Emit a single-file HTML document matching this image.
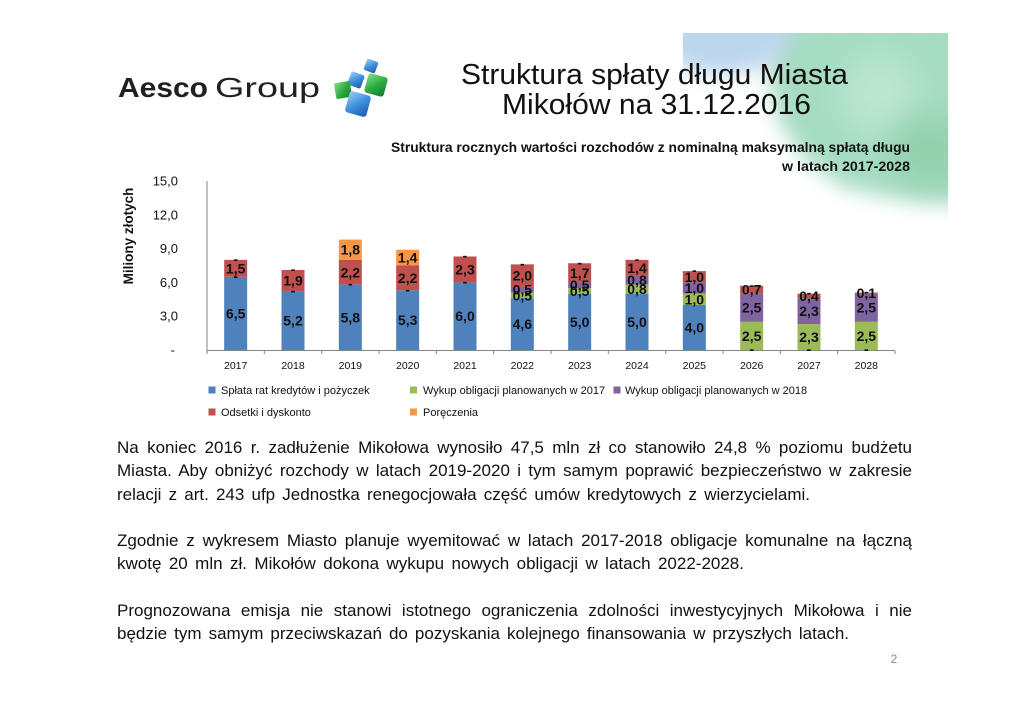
<!DOCTYPE html>
<html>
<head>
<meta charset="utf-8">
<style>
  html,body{margin:0;padding:0;background:#fff;}
  #page{position:relative;width:1024px;height:724px;overflow:hidden;background:#fff;font-family:"Liberation Sans",Arial,sans-serif;}
  svg{position:absolute;left:0;top:0;}
  svg text{font-family:"Liberation Sans",Arial,sans-serif;}
  .p{position:absolute;left:117px;font-size:17px;line-height:20px;color:#111;text-align:justify;text-align-last:justify;white-space:normal;}
</style>
</head>
<body>
<div id="page">
<svg width="1024" height="724" viewBox="0 0 1024 724" xmlns="http://www.w3.org/2000/svg">
  <defs>
    <filter id="blur" x="-60%" y="-60%" width="220%" height="220%"><feGaussianBlur stdDeviation="10"/></filter>
    <filter id="blur2" x="-60%" y="-60%" width="220%" height="220%"><feGaussianBlur stdDeviation="16"/></filter>
    <clipPath id="bgclip"><rect x="683" y="33" width="265" height="200"/></clipPath>
    <linearGradient id="gb" x1="0" y1="0" x2="1" y2="1">
      <stop offset="0" stop-color="#9ad2fa"/><stop offset="0.5" stop-color="#3f8fdc"/><stop offset="1" stop-color="#1a5aa8"/>
    </linearGradient>
    <linearGradient id="gg" x1="0" y1="0" x2="1" y2="1">
      <stop offset="0" stop-color="#8be08a"/><stop offset="0.5" stop-color="#2fae45"/><stop offset="1" stop-color="#117a2a"/>
    </linearGradient>
  </defs>

  <!-- decorative background -->
  <g clip-path="url(#bgclip)">
    <polygon points="770,10 970,10 970,205 905,200 845,188 805,160 778,120 768,70" fill="#a6dcc2" filter="url(#blur)"/>
    <ellipse cx="722" cy="30" rx="70" ry="45" fill="#bcd6ee" filter="url(#blur)"/>
    <ellipse cx="880" cy="95" rx="38" ry="40" fill="#bce6d2" filter="url(#blur2)"/>
    <ellipse cx="930" cy="150" rx="40" ry="35" fill="#92d0ad" filter="url(#blur2)"/>
  </g>

  <!-- logo -->
  <text x="118" y="97" font-size="28" font-weight="bold" fill="#231f20" textLength="90" lengthAdjust="spacingAndGlyphs">Aesco</text>
  <text x="215" y="97" font-size="28" fill="#231f20" textLength="105" lengthAdjust="spacingAndGlyphs">Group</text>
  <g>
    <rect x="365" y="60" width="12" height="12" rx="2" fill="url(#gb)" transform="rotate(20 371 66)"/>
    <rect x="366" y="75" width="20" height="20" rx="3" fill="url(#gg)" transform="rotate(15 376 85)"/>
    <rect x="349" y="73" width="14" height="14" rx="2" fill="url(#gb)" transform="rotate(20 356 80)"/>
    <rect x="335" y="82" width="16" height="16" rx="2" fill="url(#gg)" transform="rotate(-10 343 90)"/>
    <rect x="347" y="93" width="22" height="22" rx="3" fill="url(#gb)" transform="rotate(15 358 104)"/>
  </g>

  <!-- title -->
  <text x="461" y="84" font-size="29" fill="#111" textLength="387" lengthAdjust="spacingAndGlyphs">Struktura spłaty długu Miasta</text>
  <text x="502" y="114" font-size="29" fill="#111" textLength="309" lengthAdjust="spacingAndGlyphs">Mikołów na 31.12.2016</text>

  <!-- chart subtitle -->
  <text x="391" y="152" font-size="13.5" font-weight="bold" fill="#111" textLength="519" lengthAdjust="spacingAndGlyphs">Struktura rocznych wartości rozchodów z nominalną maksymalną spłatą długu</text>
  <text x="782" y="171" font-size="13.5" font-weight="bold" fill="#111" textLength="128" lengthAdjust="spacingAndGlyphs">w latach 2017-2028</text>

  <!-- y axis title -->
  <text transform="translate(133,236) rotate(-90)" text-anchor="middle" font-size="13.5" font-weight="bold" fill="#111">Miliony złotych</text>

  <!-- y tick labels -->
  <g font-size="13" fill="#111" text-anchor="end">
    <text x="178" y="185.5">15,0</text>
    <text x="178" y="219.3">12,0</text>
    <text x="178" y="253.1">9,0</text>
    <text x="178" y="286.9">6,0</text>
    <text x="178" y="320.7">3,0</text>
    <text x="175" y="354.5">-</text>
  </g>

  <!-- bars -->
  <g>
    <rect x="224.17" y="276.77" width="23" height="73.23" fill="#4f81bd"/>
    <rect x="224.17" y="259.87" width="23" height="16.9" fill="#c0504d"/>
    <rect x="281.5" y="291.41" width="23" height="58.59" fill="#4f81bd"/>
    <rect x="281.5" y="270.0" width="23" height="21.41" fill="#c0504d"/>
    <rect x="338.83" y="284.65" width="23" height="65.35" fill="#4f81bd"/>
    <rect x="338.83" y="259.86" width="23" height="24.79" fill="#c0504d"/>
    <rect x="338.83" y="239.58" width="23" height="20.28" fill="#f79646"/>
    <rect x="396.17" y="290.29" width="23" height="59.71" fill="#4f81bd"/>
    <rect x="396.17" y="265.5" width="23" height="24.79" fill="#c0504d"/>
    <rect x="396.17" y="249.73" width="23" height="15.77" fill="#f79646"/>
    <rect x="453.5" y="282.4" width="23" height="67.6" fill="#4f81bd"/>
    <rect x="453.5" y="256.49" width="23" height="25.91" fill="#c0504d"/>
    <rect x="510.83" y="298.17" width="23" height="51.83" fill="#4f81bd"/>
    <rect x="510.83" y="292.54" width="23" height="5.63" fill="#9bbb59"/>
    <rect x="510.83" y="286.91" width="23" height="5.63" fill="#8064a2"/>
    <rect x="510.83" y="264.38" width="23" height="22.53" fill="#c0504d"/>
    <rect x="568.17" y="293.67" width="23" height="56.33" fill="#4f81bd"/>
    <rect x="568.17" y="288.04" width="23" height="5.63" fill="#9bbb59"/>
    <rect x="568.17" y="282.41" width="23" height="5.63" fill="#8064a2"/>
    <rect x="568.17" y="263.26" width="23" height="19.15" fill="#c0504d"/>
    <rect x="625.5" y="293.67" width="23" height="56.33" fill="#4f81bd"/>
    <rect x="625.5" y="284.66" width="23" height="9.01" fill="#9bbb59"/>
    <rect x="625.5" y="275.65" width="23" height="9.01" fill="#8064a2"/>
    <rect x="625.5" y="259.88" width="23" height="15.77" fill="#c0504d"/>
    <rect x="682.83" y="304.93" width="23" height="45.07" fill="#4f81bd"/>
    <rect x="682.83" y="293.66" width="23" height="11.27" fill="#9bbb59"/>
    <rect x="682.83" y="282.39" width="23" height="11.27" fill="#8064a2"/>
    <rect x="682.83" y="271.12" width="23" height="11.27" fill="#c0504d"/>
    <rect x="740.17" y="321.83" width="23" height="28.17" fill="#9bbb59"/>
    <rect x="740.17" y="293.66" width="23" height="28.17" fill="#8064a2"/>
    <rect x="740.17" y="285.77" width="23" height="7.89" fill="#c0504d"/>
    <rect x="797.5" y="324.09" width="23" height="25.91" fill="#9bbb59"/>
    <rect x="797.5" y="298.18" width="23" height="25.91" fill="#8064a2"/>
    <rect x="797.5" y="293.67" width="23" height="4.51" fill="#c0504d"/>
    <rect x="854.83" y="321.83" width="23" height="28.17" fill="#9bbb59"/>
    <rect x="854.83" y="293.66" width="23" height="28.17" fill="#8064a2"/>
    <rect x="854.83" y="292.53" width="23" height="1.13" fill="#c0504d"/>
  </g>

  <!-- axes -->
  <g stroke="#868686" stroke-width="1" fill="none">
    <line x1="207" y1="181" x2="207" y2="350.5"/>
    <line x1="207" y1="350.5" x2="895" y2="350.5"/>
    <line x1="207" y1="350.5" x2="207" y2="354"/>
    <line x1="264.33" y1="350.5" x2="264.33" y2="354"/>
    <line x1="321.67" y1="350.5" x2="321.67" y2="354"/>
    <line x1="379" y1="350.5" x2="379" y2="354"/>
    <line x1="436.33" y1="350.5" x2="436.33" y2="354"/>
    <line x1="493.67" y1="350.5" x2="493.67" y2="354"/>
    <line x1="551" y1="350.5" x2="551" y2="354"/>
    <line x1="608.33" y1="350.5" x2="608.33" y2="354"/>
    <line x1="665.67" y1="350.5" x2="665.67" y2="354"/>
    <line x1="723" y1="350.5" x2="723" y2="354"/>
    <line x1="780.33" y1="350.5" x2="780.33" y2="354"/>
    <line x1="837.67" y1="350.5" x2="837.67" y2="354"/>
    <line x1="895" y1="350.5" x2="895" y2="354"/>
  </g>

  <!-- x labels -->
  <g font-size="10.5" fill="#111" text-anchor="middle">
    <text x="235.67" y="369">2017</text>
    <text x="293" y="369">2018</text>
    <text x="350.33" y="369">2019</text>
    <text x="407.67" y="369">2020</text>
    <text x="465" y="369">2021</text>
    <text x="522.33" y="369">2022</text>
    <text x="579.67" y="369">2023</text>
    <text x="637" y="369">2024</text>
    <text x="694.33" y="369">2025</text>
    <text x="751.67" y="369">2026</text>
    <text x="809" y="369">2027</text>
    <text x="866.33" y="369">2028</text>
  </g>

  <!-- data labels -->
  <g font-size="14" font-weight="bold" fill="#111" text-anchor="middle">
    <text x="235.67" y="318.4">6,5</text>
    <text x="235.67" y="273.3">1,5</text>
    <text x="235.67" y="280.8">-</text>
    <text x="235.67" y="263.9">-</text>

    <text x="293" y="325.7">5,2</text>
    <text x="293" y="285.7">1,9</text>
    <text x="293" y="295.4">-</text>
    <text x="293" y="274">-</text>

    <text x="350.33" y="322.3">5,8</text>
    <text x="350.33" y="277.3">2,2</text>
    <text x="350.33" y="254.7">1,8</text>
    <text x="350.33" y="288.6">-</text>

    <text x="407.67" y="325.1">5,3</text>
    <text x="407.67" y="282.9">2,2</text>
    <text x="407.67" y="262.6">1,4</text>
    <text x="407.67" y="294.3">-</text>

    <text x="465" y="321.2">6,0</text>
    <text x="465" y="274.4">2,3</text>
    <text x="465" y="286.4">-</text>
    <text x="465" y="260.5">-</text>

    <text x="522.33" y="329.1">4,6</text>
    <text x="522.33" y="300.4">0,5</text>
    <text x="522.33" y="294.7">0,5</text>
    <text x="522.33" y="280.6">2,0</text>
    <text x="522.33" y="268.4">-</text>

    <text x="579.67" y="326.8">5,0</text>
    <text x="579.67" y="295.9">0,5</text>
    <text x="579.67" y="290.2">0,5</text>
    <text x="579.67" y="277.8">1,7</text>
    <text x="579.67" y="267.3">-</text>

    <text x="637" y="326.8">5,0</text>
    <text x="637" y="294.2">0,8</text>
    <text x="637" y="285.2">0,8</text>
    <text x="637" y="272.8">1,4</text>
    <text x="637" y="263.9">-</text>

    <text x="694.33" y="332.5">4,0</text>
    <text x="694.33" y="304.3">1,0</text>
    <text x="694.33" y="293">1,0</text>
    <text x="694.33" y="281.8">1,0</text>
    <text x="694.33" y="275.1">-</text>

    <text x="751.67" y="340.9">2,5</text>
    <text x="751.67" y="312.7">2,5</text>
    <text x="751.67" y="294.7">0,7</text>
    <text x="751.67" y="354">-</text>
    <text x="751.67" y="289.8">-</text>

    <text x="809" y="342">2,3</text>
    <text x="809" y="316.1">2,3</text>
    <text x="809" y="300.9">0,4</text>
    <text x="809" y="354">-</text>
    <text x="809" y="297.7">-</text>

    <text x="866.33" y="340.9">2,5</text>
    <text x="866.33" y="312.7">2,5</text>
    <text x="866.33" y="298.1">0,1</text>
    <text x="866.33" y="354">-</text>
    <text x="866.33" y="296.5">-</text>
  </g>

  <!-- legend -->
  <g font-size="11" fill="#111">
    <rect x="208.5" y="386.5" width="7" height="7" fill="#4f81bd"/>
    <text x="221" y="394">Spłata rat kredytów i pożyczek</text>
    <rect x="410" y="386.5" width="7" height="7" fill="#9bbb59"/>
    <text x="423" y="394">Wykup obligacji planowanych w 2017</text>
    <rect x="613.5" y="386.5" width="7" height="7" fill="#8064a2"/>
    <text x="625" y="394">Wykup obligacji planowanych w 2018</text>
    <rect x="208.5" y="408.5" width="7" height="7" fill="#c0504d"/>
    <text x="221" y="416">Odsetki i dyskonto</text>
    <rect x="410" y="408.5" width="7" height="7" fill="#f79646"/>
    <text x="423" y="416">Poręczenia</text>
  </g>

  <!-- page number -->
  <text x="894" y="663" font-size="12" fill="#8c8c8c" text-anchor="middle">2</text>
</svg>

<div class="p" style="top:438px;width:795px;">Na koniec 2016 r. zadłużenie Mikołowa wynosiło 47,5 mln zł co stanowiło 24,8 % poziomu budżetu</div>
<div class="p" style="top:461px;width:795px;">Miasta. Aby obniżyć rozchody w latach 2019-2020 i tym samym poprawić bezpieczeństwo w zakresie</div>
<div class="p" style="top:484.5px;width:693px;">relacji z art. 243 ufp Jednostka renegocjowała część umów kredytowych z wierzycielami.</div>
<div class="p" style="top:531px;width:795px;">Zgodnie z wykresem Miasto planuje wyemitować w latach 2017-2018 obligacje komunalne na łączną</div>
<div class="p" style="top:554px;width:627px;">kwotę 20 mln zł. Mikołów dokona wykupu nowych obligacji w latach 2022-2028.</div>
<div class="p" style="top:600.5px;width:795px;">Prognozowana emisja nie stanowi istotnego ograniczenia zdolności inwestycyjnych Mikołowa i nie</div>
<div class="p" style="top:623.5px;width:732px;">będzie tym samym przeciwskazań do pozyskania kolejnego finansowania w przyszłych latach.</div>
</div>
</body>
</html>
